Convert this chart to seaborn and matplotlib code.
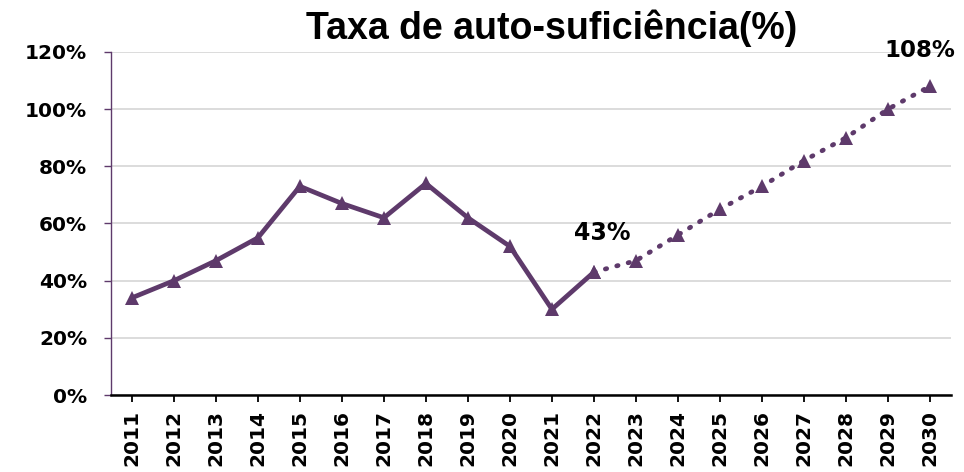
import numpy as np
import pandas as pd
import seaborn as sns
import matplotlib.pyplot as plt
from matplotlib.ticker import PercentFormatter

years = list(range(2011, 2031))
taxa = [34, 40, 47, 55, 73, 67, 62, 74, 62, 52, 30, 43, 47, 56, 65, 73, 82, 90, 100, 108]

cor = "#5e3a6b"
df = pd.DataFrame({"ano": years, "taxa": taxa})
real = df[df["ano"] <= 2022]
proj = df[df["ano"] >= 2022]

sns.set_style("white", rc={"text.color": "black", "xtick.color": "black", "ytick.color": "black"})
plt.rcParams['font.family'] = ['DejaVu Sans']

fig = plt.figure(figsize=(9.64, 4.72), dpi=100)
ax = fig.add_axes([0.115, 0.163, 0.8715, 0.727])

ax.yaxis.grid(True, color="#d9d9d9", linewidth=1.3)
ax.set_axisbelow(True)

sns.lineplot(x="ano", y="taxa", data=real, ax=ax, color=cor, linewidth=3.4,
             marker="^", markersize=10.5, markeredgewidth=0)
a = sns.lineplot(x="ano", y="taxa", data=proj, ax=ax, color=cor, linewidth=3.4,
                 linestyle=(0, (0.3, 2.2)), marker="^", markersize=10.5, markeredgewidth=0)
for l in a.lines[-1:]:
    l.set_dash_capstyle("round")

ax.set_xlim(2010.5, 2030.5)
ax.set_ylim(0, 120)
ax.set_xticks(years)
ax.set_xticklabels([str(y) for y in years], rotation=90, fontsize=14.5, fontweight="bold")
ax.set_yticks(range(0, 121, 20))
ax.yaxis.set_major_formatter(PercentFormatter(decimals=0))
for t in ax.get_yticklabels():
    t.set_fontsize(14.5)
    t.set_fontweight("bold")
ax.set_xlabel("")
ax.set_ylabel("")

for s in ["top", "right"]:
    ax.spines[s].set_visible(False)
ax.spines["left"].set_color(cor)
ax.spines["left"].set_linewidth(1)
ax.spines["bottom"].set_color("black")
ax.spines["bottom"].set_linewidth(1.8)
ax.tick_params(axis="y", direction="out", length=5, width=1, color=cor, pad=12, left=True)
ax.tick_params(axis="x", direction="out", length=5, width=1.3, color="black", pad=6, bottom=True)

ax.text(2022.2, 56.8, "43%", fontsize=17, fontweight="bold", ha="center", va="center")
ax.text(2029.76, 120.6, "108%", fontsize=16.5, fontweight="bold", ha="center", va="center", clip_on=False)

fig.text(0.572, 1 - 39 / 472, "Taxa de auto-suficiência(%)", fontsize=27, fontweight="bold",
         family=["Liberation Sans", "DejaVu Sans"], ha="center", va="baseline")

fig.savefig("out.png", dpi=100)
